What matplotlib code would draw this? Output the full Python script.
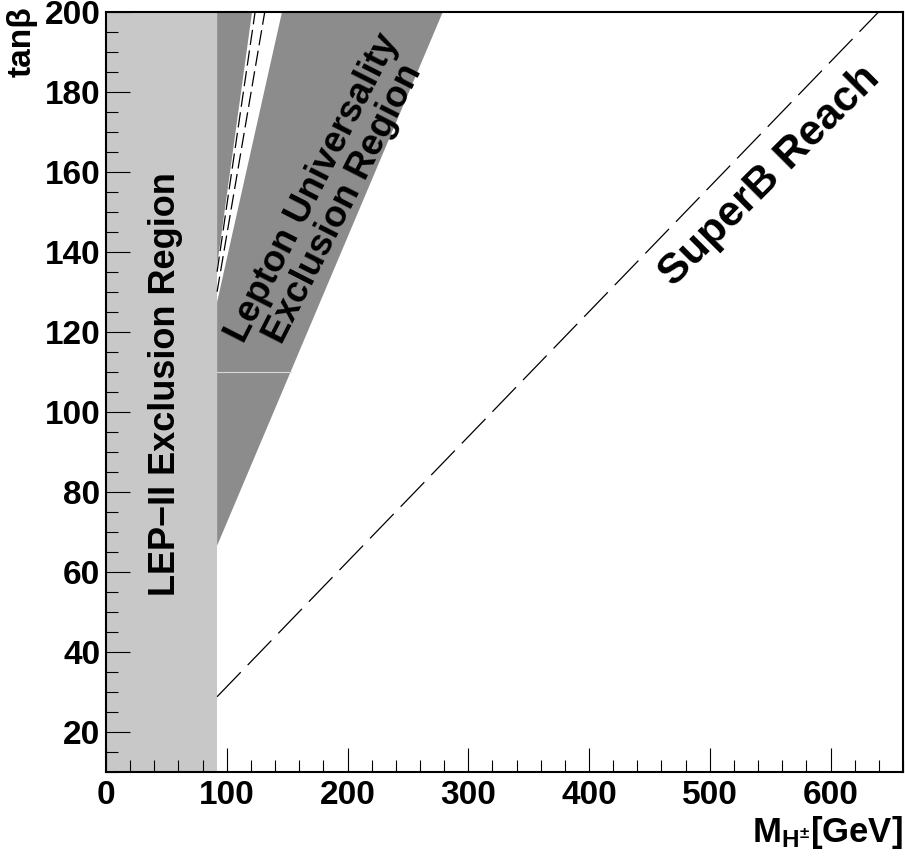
#!/usr/bin/env python3

import numpy as np
import matplotlib
matplotlib.use("Agg")
import matplotlib.pyplot as plt

plt.rcParams['font.family'] = ['Liberation Sans', 'DejaVu Sans']
plt.rcParams['font.weight'] = 'bold'
plt.rcParams['mathtext.fontset'] = 'custom'
plt.rcParams['mathtext.rm'] = 'Liberation Sans:bold'
plt.rcParams['mathtext.bf'] = 'Liberation Sans:bold'
plt.rcParams['mathtext.it'] = 'Liberation Sans:bold'
plt.rcParams['lines.scale_dashes'] = False

# axis ranges
mh_range = [0, 660]
tb_range = [10, 200]

# LEP-II lower limit on the charged Higgs mass
lep_limit = 92.0

# lepton universality exclusion region (outer edge, inner edge)
lu_outer_m = [92.0, 279.0]
lu_outer_tb = [66.5, 200.0]
lu_inner_m = [92.0, 145.8]
lu_inner_tb = [127.4, 200.0]
lu_split_tb = 110.0

# thin excluded strip left of the gap
strip_m = [92.0, 121.0]
strip_tb = [136.5, 200.0]

# dashed curves inside the gap
dashA_m = [92.0, 123.5]
dashA_tb = [135.0, 200.0]
dashB_m = [92.0, 131.5]
dashB_tb = [130.0, 200.0]

# SuperB reach
superb_m = [92.0, 640.0]
superb_tb = [28.75, 200.0]

xticks = [0, 100, 200, 300, 400, 500, 600]
yticks = [20, 40, 60, 80, 100, 120, 140, 160, 180, 200]

lightgray = "#c8c8c8"
darkgray = "#8c8c8c"

fig = plt.figure(figsize=(9.05, 8.63), dpi=100)
ax = fig.add_axes([106/905., 1 - 771.7/863., (903 - 106)/905., (771.7 - 11.7)/863.])

# LEP region
ax.fill_betweenx(tb_range, [mh_range[0]] * 2, [lep_limit] * 2, color=lightgray, lw=0)

# lepton universality region
poly_m = [lu_outer_m[0], lu_outer_m[1], lu_inner_m[1], lu_inner_m[0]]
poly_tb = [lu_outer_tb[0], lu_outer_tb[1], lu_inner_tb[1], lu_inner_tb[0]]
ax.fill(poly_m, poly_tb, color=darkgray, lw=0)

strip_pm = [strip_m[0], strip_m[1], lep_limit]
strip_ptb = [strip_tb[0], strip_tb[1], tb_range[1]]
ax.fill(strip_pm, strip_ptb, color=darkgray, lw=0)

# split line inside the region
m_split = lu_outer_m[0] + (lu_split_tb - lu_outer_tb[0]) * (lu_outer_m[1] - lu_outer_m[0]) / (lu_outer_tb[1] - lu_outer_tb[0])
ax.plot([lep_limit, m_split], [lu_split_tb, lu_split_tb], color="#d8d8d8", lw=0.8)

ax.plot(dashA_m, dashA_tb, color="black", lw=0.9, linestyle=(0, (11, 4)))
ax.plot(dashB_m, dashB_tb, color="black", lw=0.9, linestyle=(0, (11, 4)))

ax.plot(superb_m, superb_tb, color="black", lw=0.9, linestyle=(0, (24.5, 7.2)))

ax.text(49, 107, "LEP\u2212II Exclusion Region", rotation=90, ha="center", va="center",
        fontsize=26, fontweight="bold")
ax.text(184, 154, "Lepton Universality\nExclusion Region", rotation=63, ha="center", va="center",
        fontsize=26.5, fontweight="bold", linespacing=1.0, multialignment="center",
        rotation_mode="anchor")
ax.text(550, 159, "SuperB Reach", rotation=45, ha="center", va="center",
        fontsize=31, fontweight="bold", rotation_mode="anchor")

ax.set_xlim(mh_range)
ax.set_ylim(tb_range)
ax.set_xticks(xticks)
ax.set_yticks(yticks)
ax.set_xticks(np.arange(0, 661, 20), minor=True)
ax.set_yticks(np.arange(10, 201, 5), minor=True)
ax.tick_params(which="both", direction="in", top=False, right=False, width=0.8, labelsize=24)
ax.tick_params(which="major", length=17)
ax.tick_params(which="minor", length=8.6)
ax.tick_params(axis="x", pad=6)
ax.tick_params(axis="y", pad=4)
for lab in ax.get_xticklabels() + ax.get_yticklabels():
    lab.set_fontweight("bold")
for sp in ax.spines.values():
    sp.set_linewidth(1.5)
    sp.set_zorder(5)

ax.set_xlabel(r"$\mathbf{M}_{\mathbf{H}^{\pm}}$[GeV]", loc="right", fontsize=25,
              fontweight="bold", labelpad=2)
fig.text(22/905., 1 - 6/863., "tan\u03b2", rotation=90, ha="center", va="top",
         fontsize=24, fontweight="bold")

plt.savefig("out.png", dpi=100)
plt.close()
